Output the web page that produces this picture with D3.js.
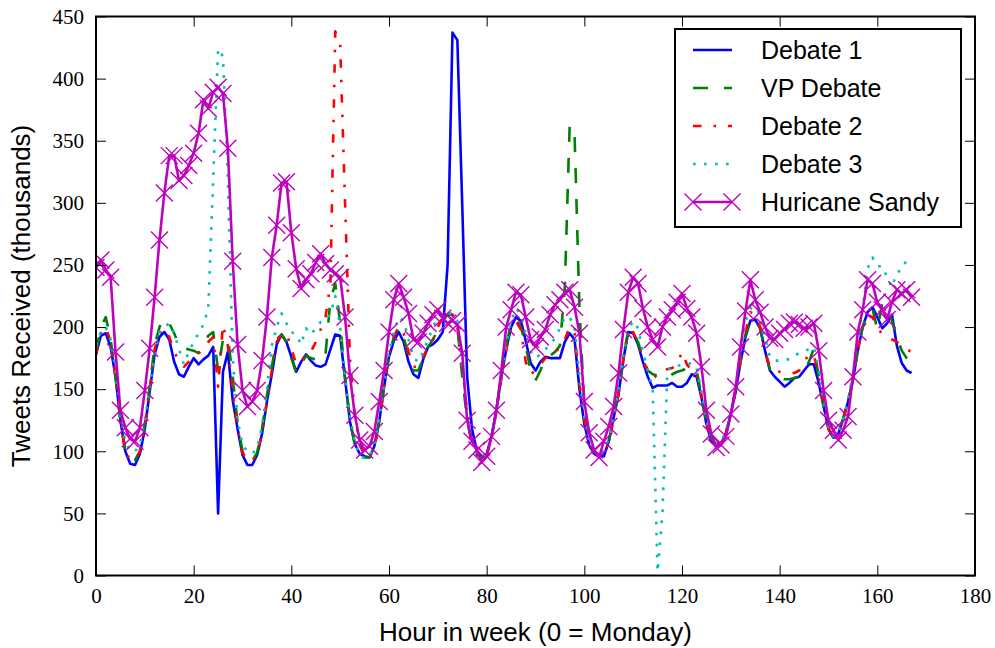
<!DOCTYPE html>
<html>
<head>
<meta charset="utf-8">
<script src="https://cdn.jsdelivr.net/npm/d3@7"></script>
<style>
  html, body { margin: 0; padding: 0; background: #fff; }
  svg { display: block; }
</style>
</head>
<body>
<svg id="chart" width="995" height="648"></svg>
<script>
// ---------------- DATA ----------------
const hours = d3.range(0, 168);

const debate1 = [
  178,193,195,184,160,125,100,90,89,98,118,148,
  178,192,196,190,172,162,160,168,175,170,174,177,
  184,50,164,180,141,118,97,89,89,97,114,140,
  162,186,194,188,176,164,172,178,173,169,168,170,
  182,194,193,158,124,106,98,96,95,104,124,152,
  176,189,196,188,172,162,159,174,184,186,190,196,
  250,437,431,298,160,118,100,95,98,112,134,160,
  182,200,208,205,189,171,165,172,176,175,175,175,
  188,195,190,150,122,105,98,96,96,108,127,146,
  174,196,195,186,172,160,151,153,153,153,155,152,
  152,155,162,160,143,122,108,105,106,114,130,148,
  172,192,205,206,199,181,165,160,156,152,155,159,
  160,165,170,170,155,136,118,111,114,126,140,157,
  181,200,212,216,208,199,203,210,185,171,165,163
];

const vpDebate = [
  180,200,208,190,160,125,100,93,93,100,122,152,
  185,200,207,203,195,185,183,182,181,179,186,193,
  196,165,190,192,160,122,100,92,92,99,118,145,
  168,190,194,188,175,163,170,177,175,174,172,178,
  222,235,203,160,125,105,97,95,95,104,124,152,
  178,192,200,192,176,165,165,175,184,190,198,205,
  210,210,200,160,125,105,97,95,97,110,133,160,
  185,203,206,200,185,165,157,165,175,177,180,185,
  232,363,355,215,135,108,100,97,98,108,126,148,
  176,198,196,188,175,165,162,161,160,159,162,164,
  165,167,168,165,145,123,110,106,107,115,130,150,
  174,194,205,206,199,181,166,163,160,158,158,159,
  160,165,172,183,160,136,118,111,114,126,140,158,
  182,200,211,215,198,219,215,205,192,181,175,171
];

const debate2 = [
  178,195,200,188,160,125,100,93,93,100,120,150,
  182,195,199,192,180,173,168,172,176,179,182,188,
  192,152,202,185,148,118,99,93,92,98,115,140,
  165,188,194,195,183,170,172,178,180,188,198,208,
  235,438,428,300,175,130,105,97,95,104,124,152,
  178,192,200,195,180,168,168,176,184,190,200,208,
  208,210,200,170,130,108,98,95,97,110,132,158,
  182,200,205,198,172,162,165,170,175,176,178,185,
  190,200,195,155,125,107,100,97,97,107,126,146,
  174,195,196,187,174,164,158,162,166,166,167,170,
  180,170,165,162,145,123,110,106,107,115,130,150,
  174,196,212,210,200,180,168,165,164,163,163,163,
  165,172,178,178,160,138,118,112,114,126,140,158,
  182,200,210,208,200,194,192,190,188,185,182,180
];

const debate3 = [
  185,196,200,190,165,130,108,100,100,105,125,152,
  178,196,200,203,195,182,170,180,188,195,202,215,
  320,424,418,320,175,125,105,100,98,103,120,150,
  185,200,211,203,196,194,186,199,194,199,204,206,
  210,225,200,160,128,108,97,94,96,106,126,152,
  180,196,208,205,190,175,172,180,190,200,208,212,
  212,210,205,170,130,108,98,96,98,112,134,160,
  185,205,215,210,195,180,175,178,182,186,191,199,
  208,208,200,160,128,110,101,99,100,110,128,150,
  178,198,205,199,180,165,150,3,50,165,169,169,
  169,170,171,167,148,125,110,106,108,116,132,152,
  180,205,214,222,205,192,176,173,173,174,174,177,
  179,181,182,184,165,140,120,112,114,126,142,162,
  190,215,247,256,249,249,240,232,244,246,254,255
];

const sandy = [
  248,254,246,240,180,133,119,110,108,119,149,183,
  224,270,308,338,338,318,322,330,340,356,383,376,
  389,393,388,344,253,186,149,136,140,149,173,208,
  256,282,316,317,276,247,231,238,243,252,259,251,
  246,243,240,208,161,129,109,101,104,116,140,165,
  196,222,235,224,211,190,188,195,203,210,214,207,
  203,205,202,179,125,108,101,91,96,112,133,165,
  200,214,228,226,208,190,184,192,198,210,218,222,
  228,230,216,195,140,115,101,95,108,120,136,163,
  198,228,240,235,215,200,190,184,200,208,214,220,
  227,215,208,195,168,133,114,103,105,112,130,152,
  184,213,238,222,212,200,191,190,195,198,203,204,
  202,199,200,203,181,149,125,117,109,117,128,160,
  196,214,238,235,220,214,206,220,230,227,230,224
];

const seriesNames = ["Debate 1", "VP Debate", "Debate 2", "Debate 3", "Huricane Sandy"];
const xTicks = [0, 20, 40, 60, 80, 100, 120, 140, 160, 180];
const yTicks = [0, 50, 100, 150, 200, 250, 300, 350, 400, 450];
const xLabel = "Hour in week (0 = Monday)";
const yLabel = "Tweets Received (thousands)";

// ---------------- CHART ----------------
const svg = d3.select("#chart");
const L = 96, R = 975, T = 16.5, B = 575.5;

svg.append("rect").attr("width", 995).attr("height", 648).attr("fill", "#fff");

const x = d3.scaleLinear().domain([0, 180]).range([L, R]);
const y = d3.scaleLinear().domain([0, 450]).range([B, T]);

const styles = [
  { color: "#0000ff", dash: null },
  { color: "#008000", dash: "15,16" },
  { color: "#ff0000", dash: "8.5,12,2.5,12" },
  { color: "#00bfbf", dash: "2.7,8.3" },
  { color: "#bf00bf", dash: null, marker: true }
];
const data = [debate1, vpDebate, debate2, debate3, sandy];

svg.append("defs").append("clipPath").attr("id", "clip")
  .append("rect").attr("x", L).attr("y", T).attr("width", R - L).attr("height", B - T);

const plot = svg.append("g").attr("clip-path", "url(#clip)");

const line = d3.line()
  .defined(d => d[1] != null)
  .x(d => x(d[0])).y(d => y(d[1]));

function xMarker(g, cx, cy, s, color) {
  g.append("path")
    .attr("d", `M${cx - s},${cy - s}L${cx + s},${cy + s}M${cx - s},${cy + s}L${cx + s},${cy - s}`)
    .attr("stroke", color).attr("stroke-width", 1.4).attr("fill", "none");
}

data.forEach((vals, i) => {
  const st = styles[i];
  const pts = hours.map((h, j) => [h, vals[j]]);
  plot.append("path")
    .datum(pts)
    .attr("d", line)
    .attr("fill", "none")
    .attr("stroke", st.color)
    .attr("stroke-width", 2.6)
    .attr("stroke-linejoin", "round")
    .attr("stroke-dasharray", st.dash);
  if (st.marker) {
    const mg = plot.append("g");
    pts.forEach(p => xMarker(mg, x(p[0]), y(p[1]), 8.5, st.color));
  }
});

// axes (inward ticks on all four sides)
const fontSerif = "'Liberation Serif', 'DejaVu Serif', serif";
const fontSans = "'Liberation Sans', Arial, Helvetica, sans-serif";

const xAxis = svg.append("g").attr("transform", `translate(0,${B})`)
  .call(d3.axisBottom(x).tickValues(xTicks).tickSize(-10).tickPadding(13).tickFormat(d3.format("d")));
const yAxis = svg.append("g").attr("transform", `translate(${L},0)`)
  .call(d3.axisLeft(y).tickValues(yTicks).tickSize(-10).tickPadding(12).tickFormat(d3.format("d")));
const xTop = svg.append("g").attr("transform", `translate(0,${T})`)
  .call(d3.axisTop(x).tickValues(xTicks).tickSize(-10).tickFormat(""));
const yRight = svg.append("g").attr("transform", `translate(${R},0)`)
  .call(d3.axisRight(y).tickValues(yTicks).tickSize(-10).tickFormat(""));

[xAxis, yAxis, xTop, yRight].forEach(g => {
  g.select(".domain").remove();
  g.selectAll(".tick line").attr("stroke", "#000").attr("stroke-width", 1);
  g.selectAll(".tick text").attr("font-family", fontSerif).attr("font-size", 21).attr("fill", "#000");
});

// frame
svg.append("rect").attr("x", L).attr("y", T).attr("width", R - L).attr("height", B - T)
  .attr("fill", "none").attr("stroke", "#000").attr("stroke-width", 2);

// axis labels
svg.append("text").attr("x", (L + R) / 2).attr("y", 641)
  .attr("text-anchor", "middle").attr("font-family", fontSans).attr("font-size", 26)
  .text(xLabel);
svg.append("text")
  .attr("transform", `translate(30,${(T + B) / 2}) rotate(-90)`)
  .attr("text-anchor", "middle").attr("font-family", fontSans).attr("font-size", 26)
  .text(yLabel);

// legend
const lg = svg.append("g");
lg.append("rect").attr("x", 675).attr("y", 29).attr("width", 286).attr("height", 198)
  .attr("fill", "#fff").attr("stroke", "#000").attr("stroke-width", 2);
const rowY = [50, 88, 126, 164, 202];
seriesNames.forEach((name, i) => {
  const st = styles[i];
  const yy = rowY[i];
  lg.append("line").attr("x1", 693).attr("x2", 732).attr("y1", yy).attr("y2", yy)
    .attr("stroke", st.color).attr("stroke-width", 2.6).attr("stroke-dasharray", st.dash);
  if (st.marker) {
    xMarker(lg, 693, yy, 8.5, st.color);
    xMarker(lg, 732, yy, 8.5, st.color);
  }
  lg.append("text").attr("x", 761).attr("y", yy + 9)
    .attr("font-family", fontSans).attr("font-size", 25).text(name);
});
</script>
</body>
</html>
